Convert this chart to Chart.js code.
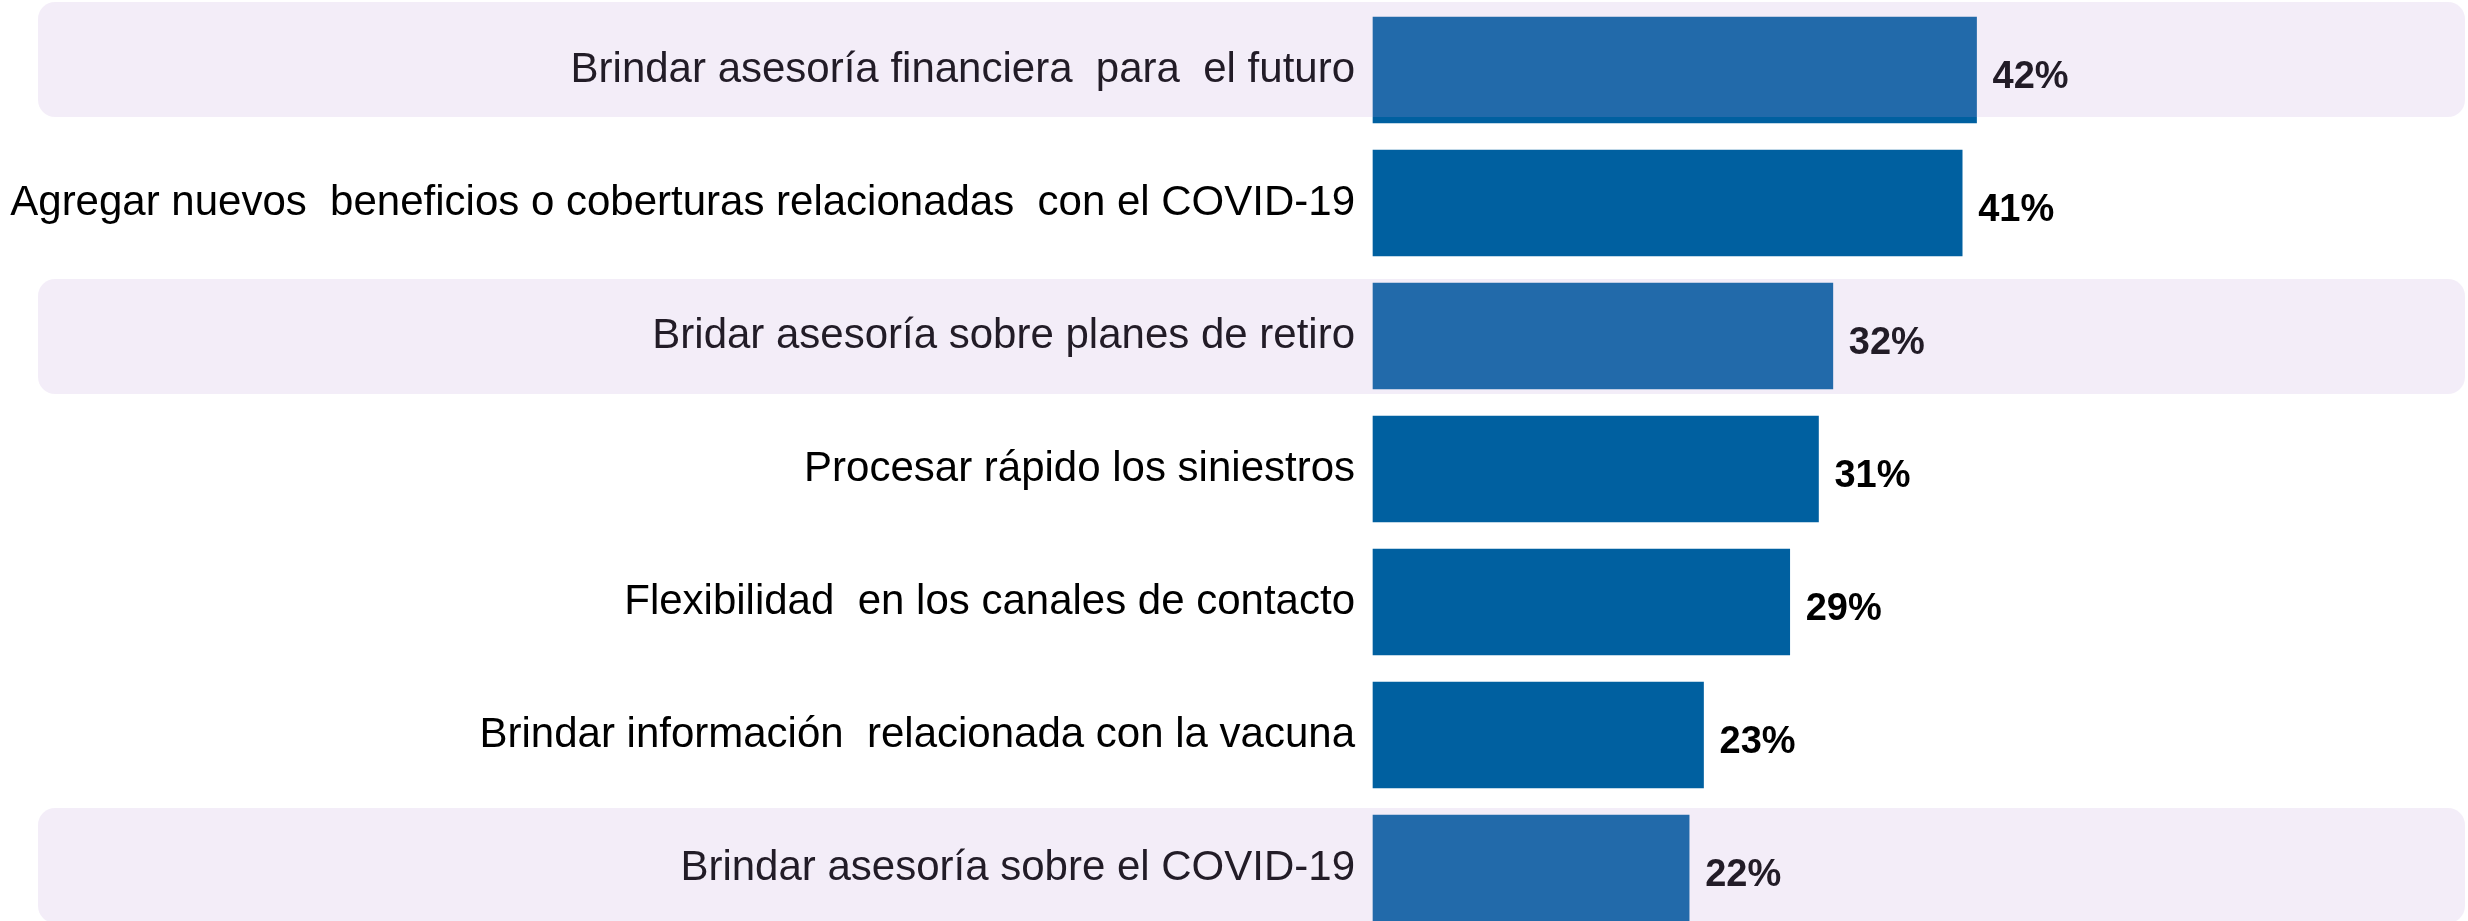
<!DOCTYPE html>
<html>
<head>
<meta charset="utf-8">
<script src="https://cdn.jsdelivr.net/npm/chart.js@4/dist/chart.umd.min.js"></script>
<style>
  html, body { margin: 0; padding: 0; background: #ffffff; overflow: hidden; }
  canvas { display: block; }
</style>
</head>
<body>
<canvas id="chart" width="2468" height="921"></canvas>
<script>
// data
const categories = [
  "Brindar asesoría financiera  para  el futuro",
  "Agregar nuevos  beneficios o coberturas relacionadas  con el COVID-19",
  "Bridar asesoría sobre planes de retiro",
  "Procesar rápido los siniestros",
  "Flexibilidad  en los canales de contacto",
  "Brindar información  relacionada con la vacuna",
  "Brindar asesoría sobre el COVID-19"
];
const values = [42, 41, 32, 31, 29, 23, 22];
const valueLabels = ["42%", "41%", "32%", "31%", "29%", "23%", "22%"];
// rows that get the light lavender band
const bandRows = [0, 2, 6];
const bandShift = [-11, 0, -3];

const barColor = "#0060a0";

// percent labels at the end of each bar
const valueLabelPlugin = {
  id: "valueLabels",
  afterDatasetsDraw(chart) {
    const ctx = chart.ctx;
    const meta = chart.getDatasetMeta(0);
    ctx.save();
    ctx.font = "bold 38px 'Liberation Sans', Arial, sans-serif";
    ctx.fillStyle = "#000000";
    ctx.textAlign = "left";
    ctx.textBaseline = "middle";
    meta.data.forEach((bar, i) => {
      ctx.fillText(valueLabels[i], bar.x + 16, bar.y + 8);
    });
    ctx.restore();
  }
};

// translucent rounded bands painted over everything
const bandPlugin = {
  id: "bands",
  afterDraw(chart) {
    const ctx = chart.ctx;
    const y = chart.scales.y;
    ctx.save();
    ctx.fillStyle = "rgba(190, 155, 215, 0.18)";
    bandRows.forEach((row, k) => {
      const c = y.getPixelForValue(row);
      const top = c - 57 + bandShift[k];
      ctx.beginPath();
      ctx.roundRect(38, top, 2465 - 38, 115, 17);
      ctx.fill();
    });
    ctx.restore();
  }
};

new Chart(document.getElementById("chart"), {
  type: "bar",
  data: {
    labels: categories,
    datasets: [{
      data: values,
      backgroundColor: barColor,
      borderWidth: 0,
      barThickness: 106,
      clip: false
    }]
  },
  options: {
    indexAxis: "y",
    responsive: false,
    animation: false,
    layout: { padding: { top: 70, bottom: 53, left: 0, right: 0 } },
    plugins: {
      legend: { display: false },
      tooltip: { enabled: false }
    },
    scales: {
      x: {
        display: false,
        min: 0,
        max: 76.2
      },
      y: {
        offset: false,
        border: { display: false },
        grid: { display: false, drawTicks: false },
        ticks: {
          padding: 18,
          color: "#000000",
          font: { family: "'Liberation Sans', Arial, sans-serif", size: 42 }
        },
        afterFit(scale) { scale.width = 1373; }
      }
    }
  },
  plugins: [valueLabelPlugin, bandPlugin]
});
</script>
</body>
</html>
